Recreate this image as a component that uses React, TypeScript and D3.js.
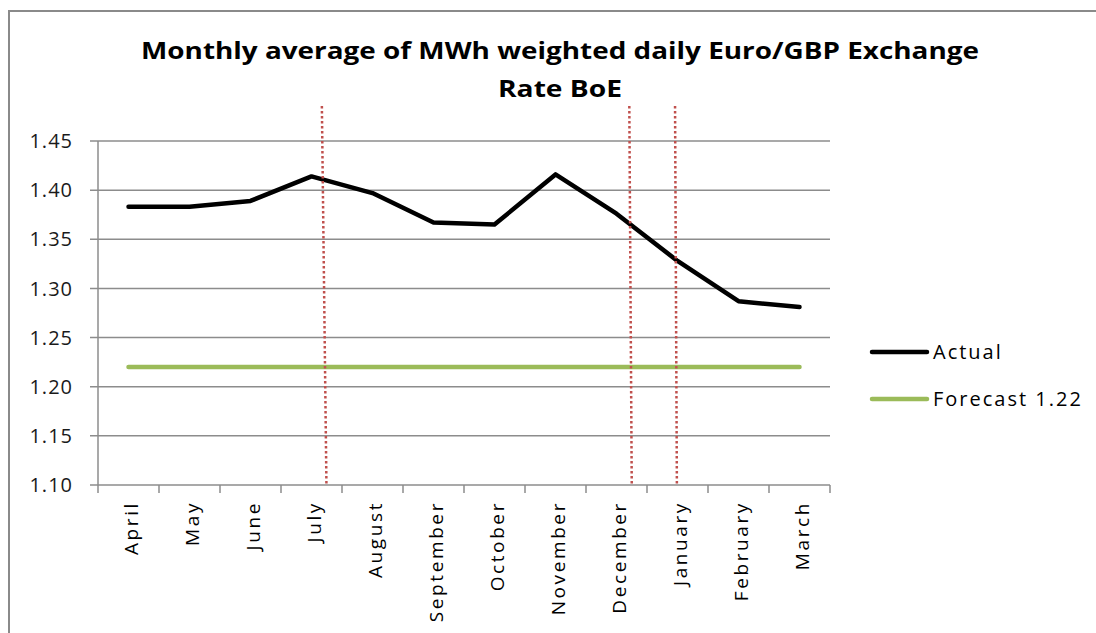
import React from "react";
import * as d3 from "d3";

const months = ["April", "May", "June", "July", "August", "September", "October", "November", "December", "January", "February", "March"];
const actual = [1.383, 1.383, 1.389, 1.414, 1.397, 1.367, 1.365, 1.416, 1.376, 1.328, 1.287, 1.281];
const forecast = [1.22, 1.22, 1.22, 1.22, 1.22, 1.22, 1.22, 1.22, 1.22, 1.22, 1.22, 1.22];
const yTicks = [1.1, 1.15, 1.2, 1.25, 1.3, 1.35, 1.4, 1.45];
// dotted markers in category units: [top, bottom]
const markers = [[3.67, 3.745], [8.71, 8.75], [9.46, 9.49]];
const titleLines = ["Monthly average of MWh weighted daily Euro/GBP Exchange", "Rate BoE"];
const legendItems = [{ name: "Actual", color: "#000000" }, { name: "Forecast 1.22", color: "#9bbb59" }];

const W = 1096, H = 633;
const left = 98, right = 830, top = 141, bottom = 485;
const font = "'Open Sans', Lato, sans-serif";

export default function App() {
  const x = d3.scaleBand<string>().domain(months).range([left, right]);
  const xu = d3.scaleLinear().domain([0, months.length]).range([left, right]);
  const y = d3.scaleLinear().domain([1.1, 1.45]).range([bottom, top]);
  const cx = (m: string) => (x(m) as number) + x.bandwidth() / 2;
  const line = d3.line<number>().x((_, i) => cx(months[i])).y((d) => y(d));
  const bounds = d3.range(months.length + 1).map((i) => xu(i));

  return (
    <svg width={W} height={H} style={{ position: "absolute", left: 0, top: 0 }}>
      <rect x={0} y={0} width={W} height={H} fill="#fff" />
      <rect x={9} y={11} width={W + 20} height={H + 20} fill="#fff" stroke="#8a8a8a" strokeWidth={2} />
      <text x={560} y={59} textAnchor="middle" fontFamily={font} fontWeight="bold" fontSize={23} fill="#000" textLength={838} lengthAdjust="spacingAndGlyphs">{titleLines[0]}</text>
      <text x={560} y={97} textAnchor="middle" fontFamily={font} fontWeight="bold" fontSize={23} fill="#000" textLength={124} lengthAdjust="spacingAndGlyphs">{titleLines[1]}</text>
      {yTicks.map((t) => (
        <g key={t}>
          <line x1={left - 8} x2={right} y1={y(t)} y2={y(t)} stroke="#8c8c8c" strokeWidth={1.5} />
          <text x={73} y={y(t)} dy="0.36em" textAnchor="end" fontFamily={font} fontSize={20} letterSpacing={1} fill="#1a1a1a">{t.toFixed(2)}</text>
        </g>
      ))}
      <line x1={left} x2={left} y1={top} y2={bottom} stroke="#8c8c8c" strokeWidth={1.5} />
      {bounds.map((b, i) => (
        <line key={i} x1={b} x2={b} y1={bottom} y2={bottom + 8} stroke="#8c8c8c" strokeWidth={1.5} />
      ))}
      {months.map((m) => (
        <text key={m} transform={`translate(${cx(m) + 3},${bottom + 16}) rotate(-90)`} dy="0.36em" textAnchor="end" fontFamily={font} fontSize={19} letterSpacing={2.6} fill="#000">{m}</text>
      ))}
      <path d={line(forecast) || ""} fill="none" stroke="#9bbb59" strokeWidth={4.5} strokeLinecap="round" />
      <path d={line(actual) || ""} fill="none" stroke="#000" strokeWidth={4.5} strokeLinejoin="round" strokeLinecap="round" />
      {markers.map((mk, i) => (
        <line key={i} x1={xu(mk[0])} x2={xu(mk[1])} y1={106} y2={bottom} stroke="#c0504d" strokeWidth={2.5} strokeDasharray="2.5,2.5" />
      ))}
      {legendItems.map((it, i) => (
        <g key={it.name}>
          <line x1={872} x2={927} y1={352 + i * 47} y2={352 + i * 47} stroke={it.color} strokeWidth={4.5} strokeLinecap="round" />
          <text x={933} y={352 + i * 47} dy="0.36em" fontFamily={font} fontSize={20} letterSpacing={2} fill="#000">{it.name}</text>
        </g>
      ))}
    </svg>
  );
}
